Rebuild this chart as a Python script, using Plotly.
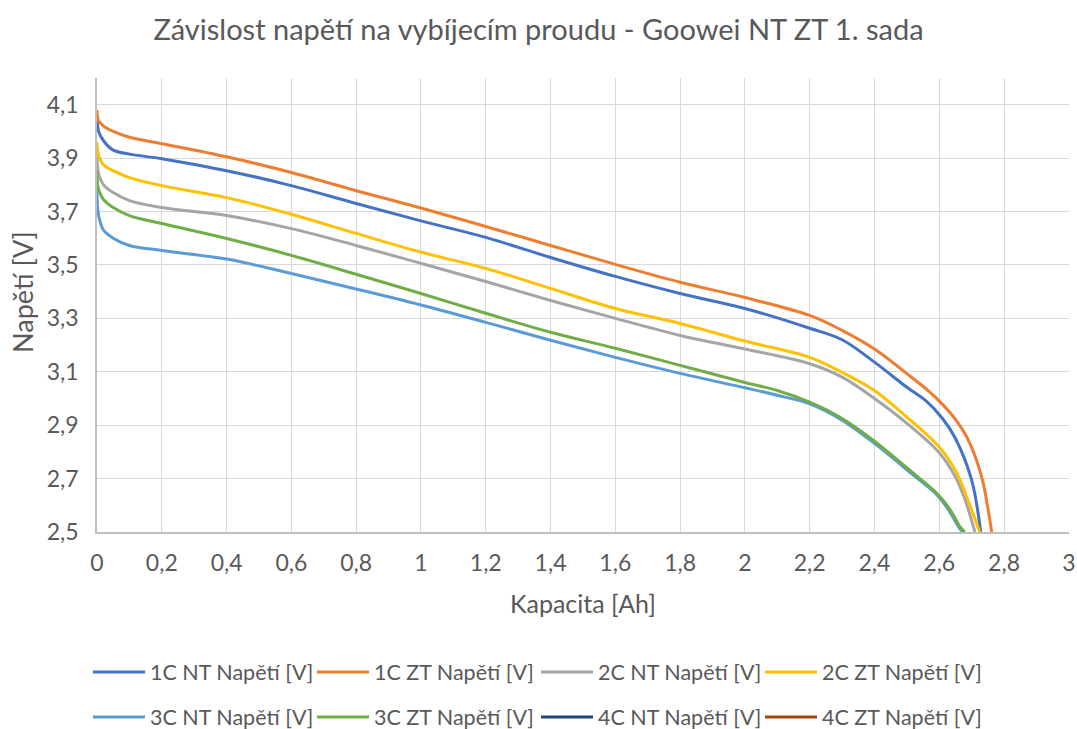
import plotly.graph_objects as go

# ---- data ----
x_1c_nt = [0, 0.005, 0.02, 0.05, 0.1, 0.2, 0.4, 0.6, 0.8, 1.0, 1.2, 1.4, 1.6, 1.8, 2.0, 2.2, 2.3, 2.4, 2.5, 2.56, 2.61, 2.65, 2.7, 2.728]
y_1c_nt = [4.06, 4.0, 3.965, 3.93, 3.915, 3.898, 3.853, 3.797, 3.73, 3.665, 3.603, 3.528, 3.457, 3.393, 3.337, 3.263, 3.22, 3.136, 3.042, 2.99, 2.925, 2.85, 2.694, 2.5]

x_1c_zt = [0, 0.005, 0.02, 0.05, 0.1, 0.2, 0.4, 0.6, 0.8, 1.0, 1.2, 1.4, 1.6, 1.8, 2.0, 2.2, 2.3, 2.4, 2.5, 2.57, 2.61, 2.65, 2.685, 2.715, 2.736, 2.751, 2.762]
y_1c_zt = [4.08, 4.04, 4.02, 4.0, 3.978, 3.954, 3.905, 3.846, 3.778, 3.713, 3.644, 3.573, 3.502, 3.435, 3.378, 3.311, 3.255, 3.185, 3.093, 3.025, 2.978, 2.922, 2.856, 2.769, 2.682, 2.582, 2.5]

x_2c_nt = [0, 0.005, 0.02, 0.05, 0.1, 0.2, 0.4, 0.6, 0.8, 1.0, 1.2, 1.4, 1.6, 1.8, 2.0, 2.2, 2.3, 2.4, 2.5, 2.6, 2.65, 2.68, 2.71]
y_2c_nt = [3.91, 3.84, 3.80, 3.771, 3.741, 3.715, 3.685, 3.636, 3.573, 3.506, 3.438, 3.367, 3.30, 3.236, 3.185, 3.13, 3.08, 3.0, 2.907, 2.797, 2.706, 2.62, 2.5]

x_2c_zt = [0, 0.005, 0.02, 0.05, 0.1, 0.2, 0.4, 0.6, 0.8, 1.0, 1.2, 1.4, 1.6, 1.8, 2.0, 2.2, 2.3, 2.4, 2.5, 2.6, 2.65, 2.68, 2.725]
y_2c_zt = [3.96, 3.91, 3.875, 3.853, 3.827, 3.797, 3.752, 3.69, 3.618, 3.548, 3.487, 3.412, 3.337, 3.281, 3.215, 3.154, 3.098, 3.03, 2.93, 2.818, 2.73, 2.646, 2.5]

x_3c_nt = [0, 0.003, 0.01, 0.02, 0.05, 0.1, 0.2, 0.4, 0.6, 0.8, 1.0, 1.2, 1.4, 1.6, 1.8, 2.0, 2.1, 2.2, 2.3, 2.4, 2.52, 2.59, 2.63, 2.66, 2.672]
y_3c_nt = [3.78, 3.70, 3.66, 3.63, 3.60, 3.573, 3.554, 3.522, 3.468, 3.41, 3.35, 3.285, 3.218, 3.154, 3.094, 3.04, 3.012, 2.98, 2.919, 2.832, 2.713, 2.642, 2.58, 2.518, 2.5]

x_3c_zt = [0, 0.003, 0.01, 0.02, 0.05, 0.1, 0.2, 0.4, 0.6, 0.8, 1.0, 1.2, 1.4, 1.6, 1.8, 2.0, 2.1, 2.2, 2.3, 2.4, 2.52, 2.59, 2.633, 2.664, 2.679]
y_3c_zt = [3.85, 3.79, 3.767, 3.745, 3.715, 3.685, 3.655, 3.599, 3.536, 3.465, 3.393, 3.319, 3.248, 3.188, 3.124, 3.06, 3.03, 2.986, 2.925, 2.84, 2.72, 2.648, 2.585, 2.52, 2.5]

x_4c_nt, y_4c_nt = [None], [None]
x_4c_zt, y_4c_zt = [None], [None]

names = ["1C NT Napětí [V]", "1C ZT Napětí [V]", "2C NT Napětí [V]", "2C ZT Napětí [V]",
         "3C NT Napětí [V]", "3C ZT Napětí [V]", "4C NT Napětí [V]", "4C ZT Napětí [V]"]
colors = ["#4472C4", "#ED7D31", "#A5A5A5", "#FFC000", "#5B9BD5", "#70AD47", "#264478", "#9E480E"]
xs = [x_1c_nt, x_1c_zt, x_2c_nt, x_2c_zt, x_3c_nt, x_3c_zt, x_4c_nt, x_4c_zt]
ys = [y_1c_nt, y_1c_zt, y_2c_nt, y_2c_zt, y_3c_nt, y_3c_zt, y_4c_nt, y_4c_zt]

FONT = "Lato"
TXT = "#595959"

fig = go.Figure()
for i in range(8):
    fig.add_trace(go.Scatter(
        x=xs[i], y=ys[i], name=names[i], mode="lines",
        line=dict(color=colors[i], width=3, shape="spline", smoothing=1.0),
        legend="legend" if i < 4 else "legend2", showlegend=True))

W, H = 1077, 729
leg_common = dict(orientation="h", xref="container", yref="container", x=88 / W, xanchor="left",
                  yanchor="middle", entrywidth=157, entrywidthmode="pixels", itemwidth=52,
                  font=dict(size=21.5, color=TXT, family=FONT), bgcolor="rgba(0,0,0,0)")
fig.update_layout(
    width=W, height=H,
    margin=dict(l=97, r=8, t=78, b=197, autoexpand=False),
    paper_bgcolor="white", plot_bgcolor="white",
    separators=", ",
    font=dict(family=FONT, color=TXT, size=20),
    title=dict(text="Závislost napětí na vybíjecím proudu - Goowei NT ZT 1. sada",
               x=0.5, xref="container", xanchor="center",
               y=1 - 30 / H, yref="container", yanchor="middle",
               font=dict(family=FONT, size=29, color=TXT)),
    xaxis=dict(range=[0, 3.0005], tick0=0, dtick=0.2, showgrid=True, gridcolor="#D9D9D9", gridwidth=1,
               showline=True, linecolor="#BFBFBF", linewidth=1.5, zeroline=False, automargin=False,
               ticks="", tickfont=dict(size=23, color=TXT, family=FONT), ticklabelstandoff=10),
    yaxis=dict(range=[2.5, 4.2], tick0=2.5, dtick=0.2, showgrid=True, gridcolor="#D9D9D9", gridwidth=1,
               showline=True, linecolor="#BFBFBF", linewidth=1.5, zeroline=False, automargin=False,
               ticks="", tickfont=dict(size=23, color=TXT, family=FONT), ticklabelstandoff=12),
    legend=dict(y=1 - 672 / H, **leg_common),
    legend2=dict(y=1 - 717 / H, **leg_common),
    annotations=[
        dict(text="Kapacita [Ah]", xref="paper", yref="paper", x=0.5, y=-(603 - 532) / (532 - 78),
             xanchor="center", yanchor="middle", showarrow=False, font=dict(size=25, color=TXT, family=FONT)),
        dict(text="Napětí [V]", xref="paper", yref="paper", x=-(97 - 22) / (1069 - 97),
             y=(532 - 292) / (532 - 78), xanchor="center", yanchor="middle", textangle=-90,
             showarrow=False, font=dict(size=27, color=TXT, family=FONT)),
    ],
)

fig.write_html("out.html")
